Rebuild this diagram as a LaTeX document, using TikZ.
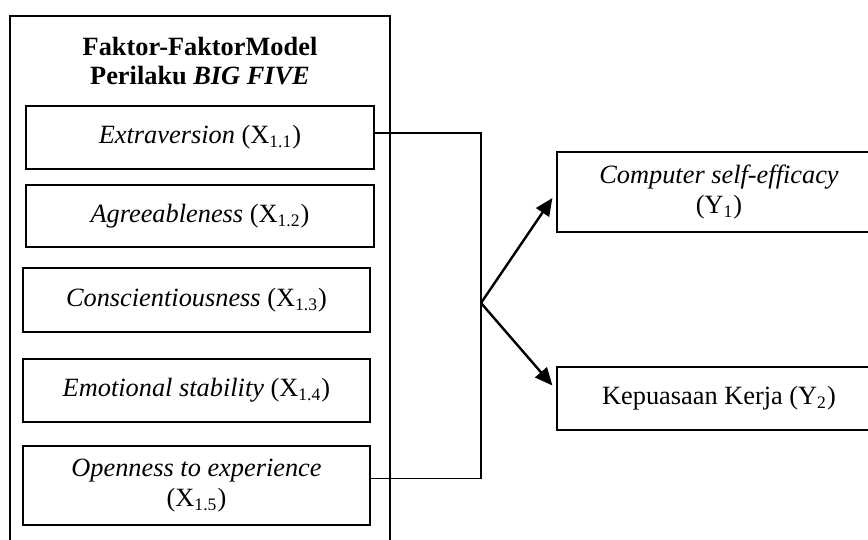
\documentclass[tikz,border=0pt]{standalone}
\usepackage{fontspec}
\setmainfont{Liberation Serif}
\usetikzlibrary{arrows.meta}

\begin{document}
\begin{tikzpicture}[x=0.016cm,y=-0.016cm,font=\fontsize{12}{13.5}\selectfont]
\useasboundingbox (0,0) rectangle (868,540);
\clip (0,0) rectangle (868,540);

\node (F)[draw,line width=0.6pt,minimum width=6.08cm,minimum height=8.704cm] at (200,288) {};
\node (T)[align=center,font=\fontsize{12}{13.2}\selectfont\bfseries] at (200,61.5) {Faktor-FaktorModel\\Perilaku \textit{BIG FIVE}};

\begin{scope}[every node/.style={draw,line width=0.6pt,align=center,inner sep=0pt}]
    \node (X1)[minimum width=5.568cm,minimum height=1.008cm] at (200,137.5) {\textit{Extraversion} (X\textsubscript{1.1})};
    \node (X2)[minimum width=5.568cm,minimum height=0.992cm] at (200,216) {\textit{Agreeableness} (X\textsubscript{1.2})};
    \node (X3)[minimum width=5.552cm,minimum height=1.024cm] at (196.5,300) {\textit{Conscientiousness} (X\textsubscript{1.3})};
    \node (X4)[minimum width=5.552cm,minimum height=1.008cm] at (196.5,390.5) {\textit{Emotional stability} (X\textsubscript{1.4})};
    \node (X5)[minimum width=5.552cm,minimum height=1.264cm] at (196.5,485.5) {\textit{Openness to experience}\\(X\textsubscript{1.5})};
    \node (Y1)[minimum width=5.184cm,minimum height=1.28cm] at (719,192) {\textit{Computer self-efficacy}\\(Y\textsubscript{1})};
    \node (Y2)[minimum width=5.184cm,minimum height=1.008cm] at (719,398.5) {Kepuasaan Kerja (Y\textsubscript{2})};
\end{scope}

\coordinate (S) at (481,303);

\begin{scope}[line width=0.6pt]
    \draw ([yshift=0.07cm]X1.east) -| (S);
    \draw ([yshift=0.11cm]X5.east) -| (S);
\end{scope}

\begin{scope}[every path/.style={draw,line width=1.1pt,-{Triangle[length=8pt,width=7pt]}}]
    \path (S) -- ([shift={(-4,6)}]Y1.west);
    \path (S) -- ([shift={(-4,-13)}]Y2.west);
\end{scope}
\end{tikzpicture}
\end{document}
